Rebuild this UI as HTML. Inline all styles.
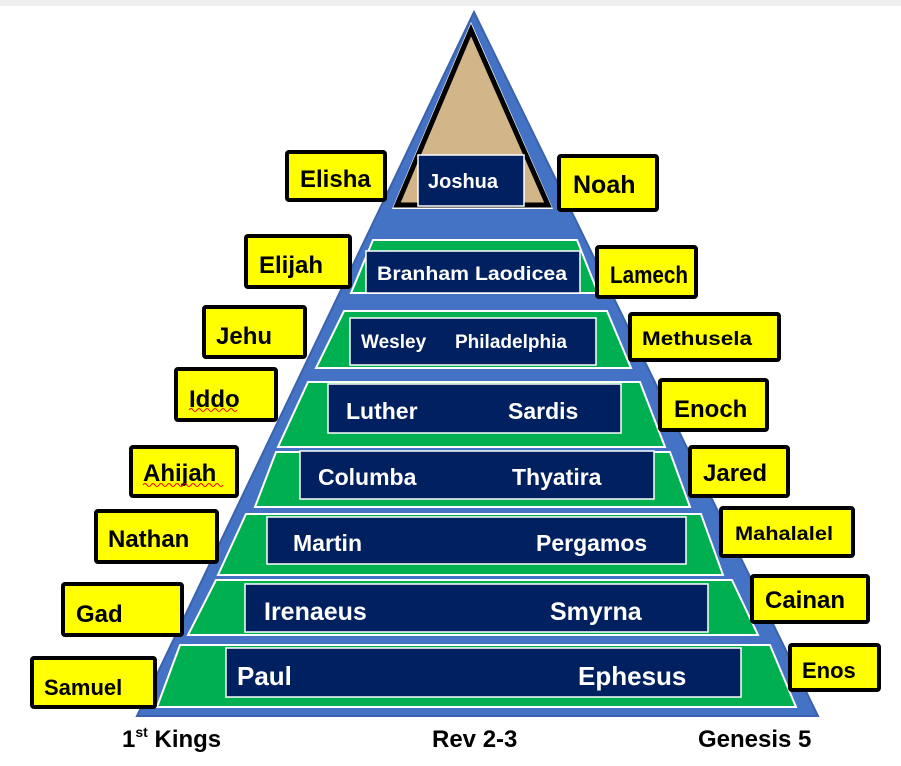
<!DOCTYPE html>
<html><head><meta charset="utf-8"><style>
html,body{margin:0;padding:0;background:#fff;width:901px;height:766px;overflow:hidden}
svg text{font-family:"Liberation Sans",sans-serif;font-weight:bold}
</style></head><body>
<svg width="901" height="766" viewBox="0 0 901 766" xmlns="http://www.w3.org/2000/svg">
<rect x="0" y="0" width="901" height="6" fill="#eeeeee"/>
<polygon points="474,12 137,716 818,716" fill="#4472c4" stroke="#3a62ad" stroke-width="2"/>
<polygon points="471,22 392,209 553,209" fill="#fff"/>
<polygon points="471,30 397,205 548,205" fill="#d2b588" stroke="#000" stroke-width="5"/>
<g fill="#00b050" stroke="#fff" stroke-width="2">
<polygon points="373,240 577,240 598,293 351,293"/>
<polygon points="344,311 607,311 631,368 316,368"/>
<polygon points="308,382 640,382 665,447 278,447"/>
<polygon points="276,452 670,452 690,507 255,507"/>
<polygon points="246,514 701,514 723,575 218,575"/>
<polygon points="216,580 732,580 758,635 188,635"/>
<polygon points="180,645 770,645 796,707 157,707"/>
</g>
<g fill="#002060" stroke="#fff" stroke-width="1.5">
<rect x="418" y="155" width="106" height="51"/>
<rect x="366" y="251" width="214" height="42"/>
<rect x="350" y="318" width="246" height="47"/>
<rect x="328" y="384" width="293" height="49"/>
<rect x="300" y="451" width="354" height="48"/>
<rect x="267" y="517" width="419" height="47"/>
<rect x="245" y="584" width="463" height="48"/>
<rect x="226" y="648" width="515" height="49"/>
</g>
<g fill="#fff">
<text x="428" y="188" font-size="20">Joshua</text>
<text x="377" y="280" font-size="19" textLength="190" lengthAdjust="spacingAndGlyphs">Branham Laodicea</text>
<text x="361" y="348" font-size="19">Wesley</text>
<text x="455" y="348" font-size="19">Philadelphia</text>
<text x="346" y="419" font-size="23">Luther</text>
<text x="508" y="419" font-size="23">Sardis</text>
<text x="318" y="485" font-size="23">Columba</text>
<text x="512" y="485" font-size="23">Thyatira</text>
<text x="293" y="551" font-size="23">Martin</text>
<text x="536" y="551" font-size="23">Pergamos</text>
<text x="264" y="620" font-size="25">Irenaeus</text>
<text x="550" y="620" font-size="25">Smyrna</text>
<text x="237" y="685" font-size="26">Paul</text>
<text x="578" y="685" font-size="26">Ephesus</text>
</g>
<g fill="#ffff00" stroke="#000" stroke-width="4">
<rect x="287" y="152" width="98" height="48" rx="2"/>
<rect x="559" y="156" width="98" height="54" rx="2"/>
<rect x="246" y="236" width="104" height="51" rx="2"/>
<rect x="597" y="247" width="99" height="50" rx="2"/>
<rect x="204" y="307" width="101" height="50" rx="2"/>
<rect x="630" y="314" width="149" height="46" rx="2"/>
<rect x="176" y="369" width="100" height="51" rx="2"/>
<rect x="660" y="380" width="107" height="50" rx="2"/>
<rect x="131" y="447" width="106" height="49" rx="2"/>
<rect x="690" y="447" width="98" height="49" rx="2"/>
<rect x="96" y="511" width="121" height="51" rx="2"/>
<rect x="721" y="508" width="132" height="48" rx="2"/>
<rect x="63" y="584" width="119" height="51" rx="2"/>
<rect x="752" y="576" width="116" height="46" rx="2"/>
<rect x="32" y="658" width="123" height="49" rx="2"/>
<rect x="790" y="645" width="89" height="45" rx="2"/>
</g>
<g fill="#000">
<text x="300" y="187" font-size="24">Elisha</text>
<text x="573" y="193" font-size="25">Noah</text>
<text x="259" y="273" font-size="24">Elijah</text>
<text x="610" y="283" font-size="24" textLength="78" lengthAdjust="spacingAndGlyphs">Lamech</text>
<text x="642" y="345" font-size="19" textLength="110" lengthAdjust="spacingAndGlyphs">Methusela</text>
<text x="216" y="344" font-size="24">Jehu</text>
<text x="189" y="407" font-size="24">Iddo</text>
<text x="674" y="417" font-size="24">Enoch</text>
<text x="143" y="481" font-size="24">Ahijah</text>
<text x="703" y="481" font-size="24">Jared</text>
<text x="108" y="547" font-size="24">Nathan</text>
<text x="735" y="540" font-size="19" textLength="98" lengthAdjust="spacingAndGlyphs">Mahalalel</text>
<text x="76" y="622" font-size="24">Gad</text>
<text x="765" y="608" font-size="24">Cainan</text>
<text x="44" y="695" font-size="22">Samuel</text>
<text x="802" y="678" font-size="22">Enos</text>
</g>
<path d="M189 410 q2 -3 4 0 q2 3 4 0 q2 -3 4 0 q2 3 4 0 q2 -3 4 0 q2 3 4 0 q2 -3 4 0 q2 3 4 0 q2 -3 4 0 q2 3 4 0 q2 -3 4 0 q2 3 4 0" fill="none" stroke="#e00" stroke-width="1"/>
<path d="M143 485 q2 -3 4 0 q2 3 4 0 q2 -3 4 0 q2 3 4 0 q2 -3 4 0 q2 3 4 0 q2 -3 4 0 q2 3 4 0 q2 -3 4 0 q2 3 4 0 q2 -3 4 0 q2 3 4 0 q2 -3 4 0 q2 3 4 0 q2 -3 4 0 q2 3 4 0 q2 -3 4 0 q2 3 4 0 q2 -3 4 0 q2 3 4 0" fill="none" stroke="#e00" stroke-width="1"/>
<g fill="#000" font-size="24">
<text x="122" y="747">1<tspan font-size="14" dy="-10">st</tspan><tspan dy="10"> Kings</tspan></text>
<text x="432" y="747">Rev 2-3</text>
<text x="698" y="747">Genesis 5</text>
</g>
</svg>
</body></html>
